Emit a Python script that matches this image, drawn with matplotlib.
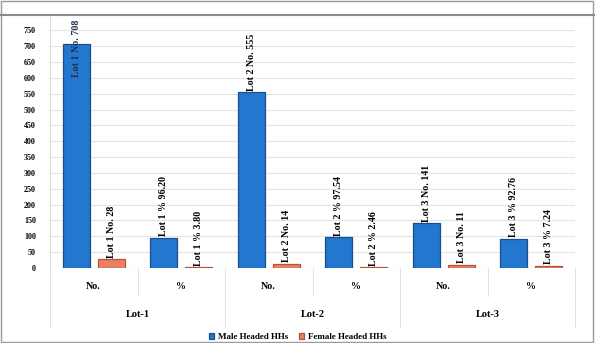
import matplotlib.pyplot as plt
import numpy as np

plt.rcParams['font.family'] = ['Liberation Serif', 'DejaVu Serif']
plt.rcParams['font.weight'] = 'bold'

# household heads per lot: counts and shares
lots = ['Lot-1', 'Lot-2', 'Lot-3']
measures = ['No.', '%']
male = [708, 96.20, 555, 97.54, 141, 92.76]
female = [28, 3.80, 14, 2.46, 11, 7.24]
male_labels = ['Lot 1 No. 708', 'Lot 1 % 96.20', 'Lot 2 No. 555', 'Lot 2 % 97.54',
               'Lot 3 No. 141', 'Lot 3 % 92.76']
female_labels = ['Lot 1 No. 28', 'Lot 1 % 3.80', 'Lot 2 No. 14', 'Lot 2 % 2.46',
                 'Lot 3 No. 11', 'Lot 3 % 7.24']

fig = plt.figure(figsize=(5.95, 3.43), dpi=100)
ax = fig.add_axes([50 / 595, 75 / 343, 525 / 595, 252 / 343])

x = np.arange(len(male))
w = 0.31
ax.bar(x - 0.2, male, w, color='#2377cf', edgecolor='#1b4f8c', linewidth=0.9,
       label='Male Headed HHs', zorder=3)
ax.bar(x + 0.2, female, w, color='#e9805f', edgecolor='#b5523a', linewidth=0.9,
       label='Female Headed HHs', zorder=3)

for xi, v, t in zip(x - 0.2, male, male_labels):
    if v > 600:
        # tallest bar: label runs down into the bar
        ax.text(xi, 785, t, rotation=90, ha='center', va='top', fontsize=7.2,
                color='#1d3050', zorder=4)
    else:
        ax.text(xi, v + 4, t, rotation=90, ha='center', va='bottom', fontsize=7.2)
for xi, v, t in zip(x + 0.2, female, female_labels):
    ax.text(xi, v + 4, t, rotation=90, ha='center', va='bottom', fontsize=7.2)

ax.set_xlim(-0.5, 5.5)
ax.set_ylim(0, 795)
ax.set_yticks(np.arange(0, 751, 50))
ax.tick_params(axis='y', labelsize=5.8, length=0, pad=10)
ax.set_xticks(x)
ax.set_xticklabels(measures * 3, fontsize=7.2)
ax.tick_params(axis='x', length=0, pad=10)
ax.yaxis.grid(True, color='#e4e4e4', linewidth=0.8, zorder=0)
for s in ['top', 'right', 'bottom']:
    ax.spines[s].set_visible(False)
ax.spines['left'].set_color('#dddddd')
ax.axhline(0, color='#cccccc', linewidth=0.8, zorder=2)

# second level of the category axis
for i, lot in enumerate(lots):
    ax.text(2 * i + 0.5, -0.185, lot, transform=ax.get_xaxis_transform(),
            ha='center', va='center', fontsize=7.5)
for b in [-0.5, 1.5, 3.5, 5.5]:
    ax.plot([b, b], [0, -0.235], transform=ax.get_xaxis_transform(),
            color='#e2e2e2', linewidth=0.7, clip_on=False)
for b in [0.5, 2.5, 4.5]:
    ax.plot([b, b], [0, -0.11], transform=ax.get_xaxis_transform(),
            color='#e2e2e2', linewidth=0.7, clip_on=False)

fig.legend(loc='lower center', bbox_to_anchor=(0.5, -0.018), ncol=2, frameon=False,
           fontsize=6.5, handlelength=0.6, handleheight=0.6, columnspacing=1.2,
           handletextpad=0.4)

# chart frame
fig.add_artist(plt.Line2D([0, 1], [1 - 15 / 343, 1 - 15 / 343], color='#8a8a8a',
                          linewidth=1.5, transform=fig.transFigure))
fig.add_artist(plt.Rectangle((0.002, 0.003), 0.995, 0.994, fill=False,
                             edgecolor='#9a9a9a', linewidth=1.0,
                             transform=fig.transFigure))

fig.savefig('out.png', dpi=100)
